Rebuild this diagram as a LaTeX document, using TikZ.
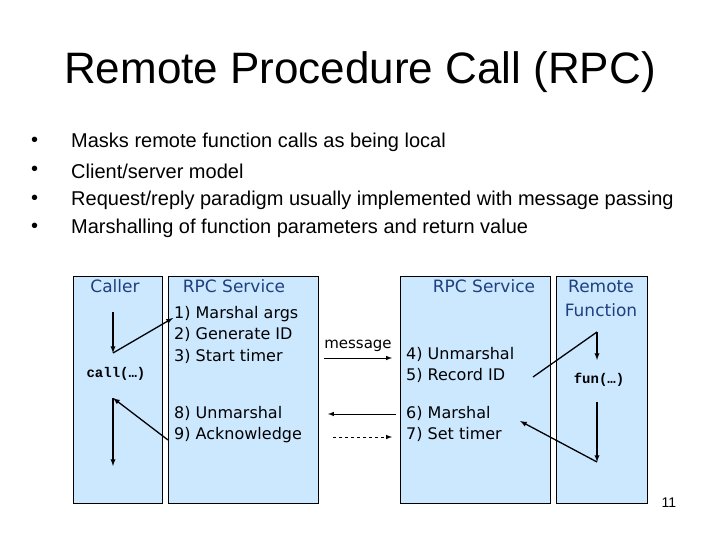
\documentclass[tikz,border=0pt]{standalone}
\usepackage{fontspec}
\setmainfont{Liberation Sans}
\newfontfamily\vfont{DejaVu Sans}
\newfontfamily\cfont{Liberation Mono}
\begin{document}
\begin{tikzpicture}[x=1pt,y=-1pt,
  box/.style={draw=black,fill=boxblue,line width=0.6pt},
  lbl/.style={font=\vfont\fontsize{17}{20}\selectfont,text=titleblue,align=center},
  txt/.style={font=\vfont\fontsize{16}{21.5}\selectfont,align=left,anchor=north west,inner sep=0},
  code/.style={font=\cfont\bfseries\fontsize{14}{16}\selectfont},
  arr/.style={-latex,line width=1.3pt},
  bul/.style={anchor=west,inner sep=0,font=\fontsize{20}{22}\selectfont}]
\definecolor{boxblue}{HTML}{CCE8FF}
\definecolor{titleblue}{HTML}{1F3F7F}
\useasboundingbox (0,0) rectangle (720,540);
\node (title) at (360,72) {\fontsize{44}{50}\selectfont Remote Procedure Call (RPC)};
\foreach \y/\t [count=\i] in {142/{Masks remote function calls as being local},171/{Client/server model},200/{Request/reply paradigm usually implemented with message passing},228/{Marshalling of function parameters and return value}}{
  \node[bul] (b\i) at (31,\y) {•};
  \node[bul] (t\i) at (71,\y) {\t};
}
\draw[box] (73,276) rectangle (162,503);
\draw[box] (168,276) rectangle (318,503);
\draw[box] (400,276) rectangle (550,503);
\draw[box] (556,276) rectangle (647,503);
\node[lbl] (caller) at (115,286) {Caller};
\node[lbl] (rpc1) at (234,286) {RPC Service};
\node[lbl] (rpc2) at (484,286) {RPC Service};
\node[lbl,font=\vfont\fontsize{17}{24}\selectfont] (remf) at (601,298) {Remote\\Function};
\node[txt] (s1) at (174,306) {1) Marshal args\\2) Generate ID\\3) Start timer};
\node[txt] (s8) at (174,406) {8) Unmarshal\\9) Acknowledge};
\node[txt] (s4) at (406,347) {4) Unmarshal\\5) Record ID};
\node[txt] (s6) at (406,406) {6) Marshal\\7) Set timer};
\node[code] (call) at (116,374) {call(…)};
\node[code] (fun) at (599,380) {fun(…)};
\node[font=\vfont\fontsize{15}{16}\selectfont] (msg) at (358,346) {message};
\node[font=\fontsize{14}{16}\selectfont] (pg) at (669,503) {11};
\coordinate (c1) at (113,312); \coordinate (c2) at (113,353);
\coordinate (c3) at (113,398); \coordinate (c4) at (113,466);
\coordinate (c5) at (168,440); \coordinate (c6) at (173,318);
\draw[arr] (c1) -- (c2);
\draw[arr] (c2) -- (c6);
\draw[arr] (c5) -- (c3);
\draw[arr] (c3) -- (c4);
\coordinate (m1) at (324,358); \coordinate (m2) at (392,358);
\draw[arr,line width=1pt] (m1) -- (m2);
\coordinate (m3) at (396,414); \coordinate (m4) at (328,414);
\draw[arr,line width=1pt] (m3) -- (m4);
\coordinate (m5) at (333,437); \coordinate (m6) at (392,437);
\draw[arr,line width=1pt,dashed] (m5) -- (m6);
\coordinate (r1) at (533,377); \coordinate (r2) at (597,332);
\coordinate (r3) at (597,360); \coordinate (r4) at (597,402);
\coordinate (r5) at (597,462); \coordinate (r6) at (520,421);
\draw[line width=1.3pt] (r1) -- (r2);
\draw[arr] (r2) -- (r3);
\draw[arr] (r4) -- (r5);
\draw[arr] (r5) -- (r6);
\end{tikzpicture}
\end{document}
